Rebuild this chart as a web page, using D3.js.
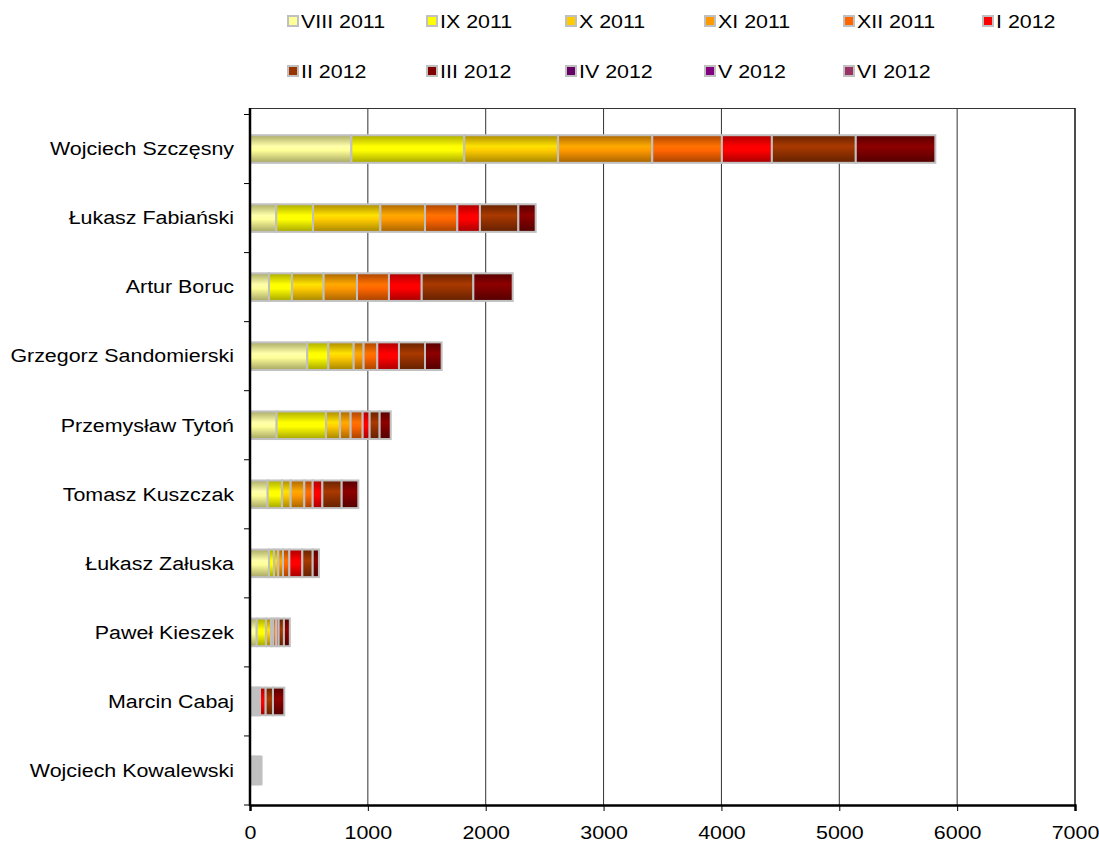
<!DOCTYPE html>
<html><head><meta charset="utf-8">
<script src="https://cdn.jsdelivr.net/npm/d3@7"></script>
<style>body{margin:0;background:#fff}svg{display:block}text{font-family:"Liberation Sans",Arial,sans-serif;fill:#000}</style>
</head><body><svg id="c" width="1099" height="847"></svg>
<script>
const categories = ["Wojciech Szczęsny","Łukasz Fabiański","Artur Boruc","Grzegorz Sandomierski","Przemysław Tytoń","Tomasz Kuszczak","Łukasz Załuska","Paweł Kieszek","Marcin Cabaj","Wojciech Kowalewski"];
const seriesNames = ["VIII 2011","IX 2011","X 2011","XI 2011","XII 2011","I 2012","II 2012","III 2012","IV 2012","V 2012","VI 2012"];
const seriesColors = ["#FFFF99","#FFFF00","#FFCC00","#FF9900","#FF6600","#FF0000","#993300","#800000","#660066","#800080","#993366"];
const viii2011 = [860,223,161,486,226,150,161,57,17,14];
const ix2011   = [958,312,195,179,419,122,43,79,17,12];
const x2011    = [796,571,269,215,119,73,36,42,17,12];
const xi2011   = [799,379,283,84,90,116,40,20,17,12];
const xii2011  = [591,274,271,116,102,71,54,25,17,12];
const i2012    = [424,192,278,184,59,82,110,20,48,12];
const ii2012   = [712,326,438,221,85,164,88,45,62,12];
const iii2012  = [675,147,334,141,94,141,53,50,96,12];
const iv2012   = [0,0,0,0,0,0,0,0,0,0];
const v2012    = [0,0,0,0,0,0,0,0,0,0];
const vi2012   = [0,0,0,0,0,0,0,0,0,0];
const xTicks = [0,1000,2000,3000,4000,5000,6000,7000];

const seriesValues = [viii2011,ix2011,x2011,xi2011,xii2011,i2012,ii2012,iii2012,iv2012,v2012,vi2012];
const table = categories.map((c,i)=>{const o={name:c};seriesNames.forEach((s,j)=>o[s]=seriesValues[j][i]);return o;});
const stacked = d3.stack().keys(seriesNames)(table);

const svg = d3.select("#c");
const L=250,R=1075,T=108,B=805;
const x = d3.scaleLinear().domain([0,7000]).range([L,R]);
const y = d3.scaleBand().domain(categories).range([114.5,B]).paddingInner(0.6).paddingOuter(0.3);
const yb = d3.scaleBand().domain(categories).range([114.5,B]);
const SX = 1.19;

const defs = svg.append("defs");
seriesColors.forEach((c,i)=>{
  const g = defs.append("linearGradient").attr("id","g"+i).attr("x1",0).attr("x2",0).attr("y1",0).attr("y2",1);
  const col = d3.color(c);
  g.append("stop").attr("offset","0%").attr("stop-color",col.darker(1.1));
  g.append("stop").attr("offset","40%").attr("stop-color",col.brighter(0.3));
  g.append("stop").attr("offset","55%").attr("stop-color",col);
  g.append("stop").attr("offset","100%").attr("stop-color",col.darker(1.2));
});

// grid
svg.append("g").selectAll("line").data(xTicks.slice(1)).join("line")
  .attr("x1",d=>x(d)).attr("x2",d=>x(d)).attr("y1",T).attr("y2",B)
  .attr("stroke","#333").attr("stroke-width",1);
svg.append("line").attr("x1",L).attr("x2",R).attr("y1",T+0.5).attr("y2",T+0.5).attr("stroke","#333");

// bars
svg.append("g").selectAll("g").data(stacked).join("g")
  .attr("fill",(d,i)=>`url(#g${i})`)
  .selectAll("rect").data(d=>d.filter(p=>p[1]-p[0]>0)).join("rect")
  .attr("x",d=>x(d[0])).attr("width",d=>x(d[1])-x(d[0]))
  .attr("y",d=>y(d.data.name)).attr("height",y.bandwidth())
  .attr("stroke","#C0C0C0").attr("stroke-width",2);

// axes
const xAxis = d3.axisBottom(x).tickValues(xTicks).tickSize(6).tickFormat(d3.format("d"));
const gx = svg.append("g").attr("transform",`translate(0,${B})`).call(xAxis);
gx.select(".domain").attr("stroke","#000").attr("stroke-width",2.5);
gx.selectAll(".tick line").attr("stroke","#000");
gx.selectAll(".tick text").attr("font-size",18).attr("dy",0).attr("y",0)
  .attr("transform","translate(0,34) scale("+SX+",1)").attr("font-family","Liberation Sans, Arial");

const yAxis = d3.axisLeft(yb).tickSize(0).tickPadding(16);
const gy = svg.append("g").attr("transform",`translate(${L},0)`).call(yAxis);
gy.select(".domain").remove();
gy.selectAll(".tick text").attr("font-size",18).attr("x",0).attr("dy","0.35em")
  .attr("transform","translate(-16,0) scale("+SX+",1)").attr("font-family","Liberation Sans, Arial");
// y tick marks at band boundaries
const bounds = categories.map(c=>yb(c)).concat([B]);
svg.append("g").selectAll("line").data(bounds).join("line")
  .attr("x1",L-6).attr("x2",L).attr("y1",d=>d).attr("y2",d=>d).attr("stroke","#000");
svg.append("line").attr("x1",L).attr("x2",L).attr("y1",T).attr("y2",B+1).attr("stroke","#000").attr("stroke-width",2.5);
svg.append("line").attr("x1",R).attr("x2",R).attr("y1",T).attr("y2",B).attr("stroke","#000").attr("stroke-width",1);

// legend
const lx = [288,427,566,705,844,983];
const leg = svg.append("g").selectAll("g").data(seriesNames).join("g")
  .attr("transform",(d,i)=>`translate(${lx[i%6]},${i<6?22:72})`);
leg.append("rect").attr("x",1).attr("y",-5).attr("width",10).attr("height",10).attr("fill","#808080");
leg.append("rect").attr("x",0).attr("y",-6).attr("width",10).attr("height",10)
  .attr("fill",(d,i)=>seriesColors[i]).attr("stroke","#C0C0C0").attr("stroke-width",2);
leg.append("text").attr("dy","0.35em").attr("font-size",18)
  .attr("transform","translate(13,0) scale("+SX+",1)").text(d=>d);
</script></body></html>
